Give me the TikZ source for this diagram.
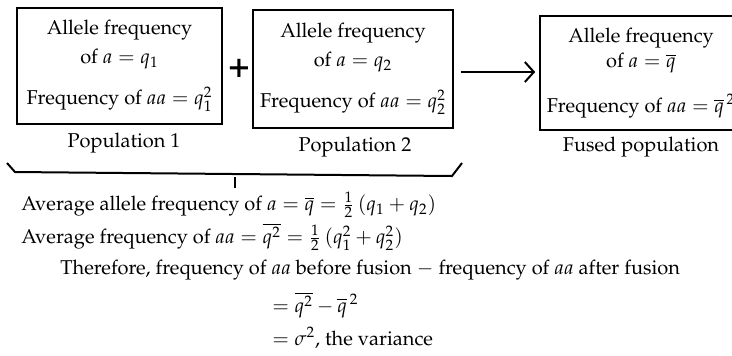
\documentclass[tikz,border=0pt]{standalone}
\usepackage[T1]{fontenc}
\usepackage{amsmath,amssymb}
\usepackage{mathpazo}
\usepackage{tikz}
\usetikzlibrary{arrows.meta,positioning}

\tikzset{
  popbox/.style={draw, line width=0.8pt, align=center, inner sep=0pt,
    font=\fontsize{10}{14.5}\selectfont},
  poplabel/.style={inner sep=1pt, font=\fontsize{10}{12}\selectfont},
  calcline/.style={anchor=west, inner sep=0pt, font=\fontsize{10}{12}\selectfont},
  fusearrow/.style={line width=1pt, -{Straight Barb[length=4.5pt, width=10pt, line width=1pt]}},
}

\begin{document}
\begin{tikzpicture}[x=0.5pt, y=-0.5pt]
  \useasboundingbox (0,0) rectangle (732,355);
  \clip (0,0) rectangle (732,355);

  % Populations before fusion
  \node[popbox, minimum width=102.5pt, minimum height=58pt] (pop1) at (119.5,66)
    {Allele frequency\\ of $a = q_1$\\[6pt] Frequency of $aa = q_1^2$};
  \node[poplabel] (lab1) at (124,143) {Population 1};

  \node[inner sep=0pt, font=\fontsize{18}{18}\bfseries\selectfont] (plus) at (239,68) {+};

  \node[popbox, minimum width=100pt, minimum height=59pt] (pop2) at (353,69)
    {Allele frequency\\ of $a = q_2$\\[6pt] Frequency of $aa = q_2^2$};
  \node[poplabel] (lab2) at (355,147) {Population 2};

  % Fused population
  \node[popbox, minimum width=101pt, minimum height=57pt] (fused) at (641,73)
    {Allele frequency\\[-2pt] of $a = \overline{q}$\\[8pt] Frequency of $aa = \overline{q}^{\,2}$};
  \node[poplabel] (lab3) at (641,147) {Fused population};

  \draw[fusearrow] ([shift={(3.5pt,-1.5pt)}]pop2.east) -- ([shift={(-2pt,0.5pt)}]fused.west);

  % Brace under both populations
  \draw[line width=1pt] (7,163) -- (15,172) -- (452,176) -- (462,163);
  \draw[line width=0.8pt] (235,177) -- (235,188);

  % Averages
  \node[calcline] (avg1) at (21,205)
    {Average allele frequency of $a = \overline{q} = \tfrac{1}{2}\,(q_1 + q_2)$};
  \node[calcline] (avg2) at (21,237)
    {Average frequency of $aa = \overline{q^2} = \tfrac{1}{2}\,(q_1^2 + q_2^2)$};
  \node[calcline] (diff1) at (60,270)
    {Therefore, frequency of $aa$ before fusion $-$ frequency of $aa$ after fusion};
  \node[calcline] (diff2) at (272,305) {$= \overline{q^2} - \overline{q}^{\,2}$};
  \node[calcline] (diff3) at (272,338) {$= \sigma^2$, the variance};
\end{tikzpicture}
\end{document}
